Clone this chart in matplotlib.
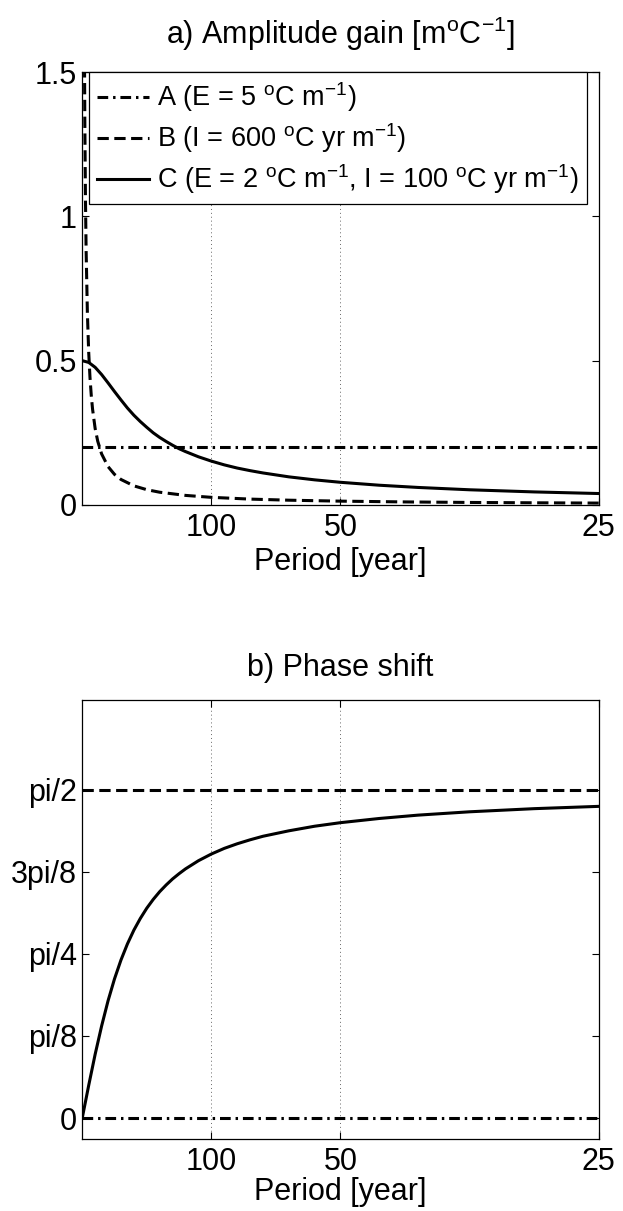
import numpy as np
import matplotlib
matplotlib.use("Agg")
import matplotlib.pyplot as plt

plt.rcParams['font.family'] = ['Liberation Sans', 'DejaVu Sans']
plt.rcParams['mathtext.fontset'] = 'custom'
plt.rcParams['mathtext.rm'] = 'Liberation Sans'
plt.rcParams['mathtext.it'] = 'Liberation Sans:italic'
plt.rcParams['mathtext.bf'] = 'Liberation Sans:bold'

# frequency [1/year] and values
freq_c = [0.0, 0.0005, 0.001, 0.0015, 0.002, 0.0025, 0.003, 0.0035, 0.004, 0.0045,
          0.005, 0.0055, 0.006, 0.0065, 0.007, 0.0075, 0.008, 0.009, 0.010, 0.011,
          0.012, 0.013, 0.014, 0.016, 0.018, 0.020, 0.023, 0.026, 0.030, 0.035, 0.040]
gain_c = [0.5, 0.494, 0.477, 0.452, 0.423, 0.393, 0.364, 0.336, 0.311, 0.289,
          0.269, 0.250, 0.234, 0.220, 0.207, 0.195, 0.185, 0.167, 0.152, 0.139,
          0.128, 0.119, 0.111, 0.0975, 0.0871, 0.0786, 0.0685, 0.0608, 0.0527,
          0.0453, 0.0397]
phase_c = [0.0, 0.156, 0.305, 0.440, 0.561, 0.666, 0.756, 0.833, 0.899, 0.955,
           1.004, 1.046, 1.083, 1.115, 1.144, 1.169, 1.192, 1.231, 1.263, 1.290,
           1.312, 1.331, 1.348, 1.374, 1.396, 1.413, 1.433, 1.449, 1.465, 1.480,
           1.491]

freq_b = [0.00015, 0.0002, 0.00025, 0.0003, 0.0004, 0.0005, 0.0006, 0.0007, 0.0008,
          0.001, 0.0012, 0.0015, 0.002, 0.0025, 0.003, 0.004, 0.005, 0.006, 0.008,
          0.010, 0.013, 0.016, 0.020, 0.025, 0.030, 0.035, 0.040]
gain_b = [1.768, 1.326, 1.061, 0.884, 0.663, 0.530, 0.442, 0.379, 0.332,
          0.265, 0.221, 0.177, 0.133, 0.106, 0.0884, 0.0663, 0.0530, 0.0442, 0.0332,
          0.0265, 0.0204, 0.0166, 0.0133, 0.0106, 0.0088, 0.0076, 0.0066]

freq_const = [0.0, 0.040]
gain_a = [0.2, 0.2]
phase_a = [0.0, 0.0]
phase_b = [np.pi / 2, np.pi / 2]

xticks = [0.01, 0.02, 0.04]
xticklabels = ['100', '50', '25']
yticks_a = [0, 0.5, 1, 1.5]
yticklabels_a = ['0', '0.5', '1', '1.5']
yticks_b = [0, np.pi / 8, np.pi / 4, 3 * np.pi / 8, np.pi / 2]
yticklabels_b = ['0', 'pi/8', 'pi/4', '3pi/8', 'pi/2']

lw = 2.2
fs = 22
dashdot = (0, (3.5, 1.6, 0.8, 1.6))
dashed = (0, (3.7, 1.8))

fig = plt.figure(figsize=(6.23, 12.11), dpi=100)
ax1 = fig.add_axes([0.132, 0.583, 0.829, 0.3575])
ax2 = fig.add_axes([0.132, 0.0595, 0.829, 0.3625])


def style_axes(ax, lpad):
    ax.set_xlim(0, 0.04)
    ax.set_xticks(xticks)
    ax.set_xticklabels(xticklabels)
    ax.tick_params(direction='in', length=5, width=0.8, top=True, right=True,
                   labelsize=fs)
    ax.tick_params(axis='x', pad=6)
    ax.tick_params(axis='y', pad=4)
    for s in ax.spines.values():
        s.set_linewidth(0.9)
    for xv in xticks[:2]:
        ax.axvline(xv, color='0.4', lw=0.7, ls=(0, (1, 3)), zorder=0)
    ax.set_xlabel('Period [year]', fontsize=fs, labelpad=lpad)


# a) amplitude gain
ax1.plot(freq_const, gain_a, color='k', lw=lw, ls=dashdot,
         label=r'A (E = 5 $^{\rm o}$C m$^{-1}$)')
ax1.plot(freq_b, gain_b, color='k', lw=lw, ls=dashed,
         label=r'B (I = 600 $^{\rm o}$C yr m$^{-1}$)')
ax1.plot(freq_c, gain_c, color='k', lw=lw, ls='-',
         label=r'C (E = 2 $^{\rm o}$C m$^{-1}$, I = 100 $^{\rm o}$C yr m$^{-1}$)')
ax1.set_ylim(0, 1.5)
ax1.set_yticks(yticks_a)
ax1.set_yticklabels(yticklabels_a)
style_axes(ax1, 3)
ax1.set_title(r'a) Amplitude gain [m$^{\rm o}$C$^{-1}$]', fontsize=fs, pad=20)
leg = ax1.legend(loc='upper left', bbox_to_anchor=(0.013, 1.0), borderaxespad=0,
                 fontsize=19.5, handlelength=1.9, handletextpad=0.33,
                 labelspacing=0.27, borderpad=0.3, fancybox=False, framealpha=1)
leg.get_frame().set_edgecolor('k')
leg.get_frame().set_linewidth(0.9)

# b) phase shift
ax2.plot(freq_const, phase_a, color='k', lw=lw, ls=dashdot)
ax2.plot(freq_const, phase_b, color='k', lw=lw, ls=dashed)
ax2.plot(freq_c, phase_c, color='k', lw=lw, ls='-')
ax2.set_ylim(-0.1, 2.0)
ax2.set_yticks(yticks_b)
ax2.set_yticklabels(yticklabels_b)
style_axes(ax2, 0)
ax2.set_title('b) Phase shift', fontsize=fs, pad=17)

fig.savefig('out.png', dpi=100)
